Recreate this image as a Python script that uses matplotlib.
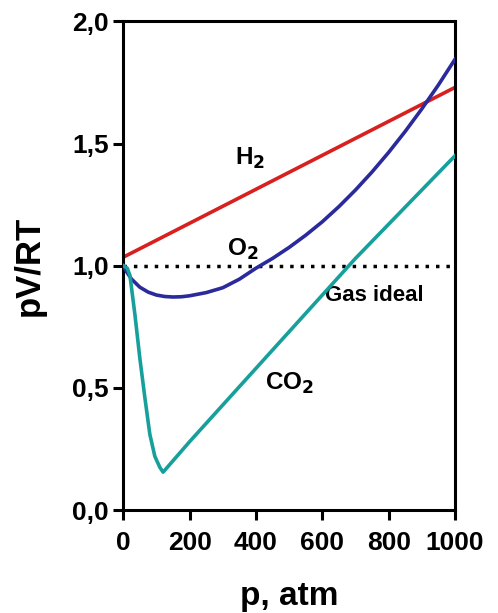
import numpy as np
import matplotlib.pyplot as plt

plt.rcParams['font.family'] = ['Liberation Sans', 'DejaVu Sans']
plt.rcParams['font.weight'] = 'bold'
plt.rcParams['mathtext.default'] = 'bf'

# datos
p_h2 = [0, 1000]
z_h2 = [1.035, 1.73]

p_o2 = [0, 10, 25, 50, 75, 100, 125, 150, 175, 200, 250, 300, 350, 400, 450, 500,
        550, 600, 650, 700, 750, 800, 850, 900, 950, 1000]
z_o2 = [1.0, 0.975, 0.945, 0.912, 0.892, 0.88, 0.874, 0.872, 0.873, 0.877, 0.89, 0.91,
        0.945, 0.99, 1.03, 1.075, 1.125, 1.18, 1.242, 1.31, 1.384, 1.464, 1.55, 1.642,
        1.74, 1.845]

p_co2 = [0, 12, 20, 35, 50, 65, 80, 95, 110, 120, 200, 300, 500, 700, 1000]
z_co2 = [1.0, 0.99, 0.96, 0.8, 0.62, 0.46, 0.31, 0.22, 0.175, 0.155, 0.28, 0.43, 0.73, 1.03, 1.45]

xticks = [0, 200, 400, 600, 800, 1000]
yticks = [0.0, 0.5, 1.0, 1.5, 2.0]
ytick_labels = ['0,0', '0,5', '1,0', '1,5', '2,0']

fig = plt.figure(figsize=(4.98, 6.13), dpi=100)
ax = fig.add_axes([0.2476, 0.168, 0.666, 0.797])

ax.plot([0, 1000], [1.0, 1.0], color='black', lw=2.5, ls=(0, (1, 2)), zorder=1)
ax.plot(p_h2, z_h2, color='#d8201e', lw=2.6, zorder=2)
ax.plot(p_o2, z_o2, color='#2a2a9c', lw=2.6, zorder=3)
ax.plot(p_co2, z_co2, color='#17a09b', lw=2.6, zorder=4)

ax.text(382, 1.44, 'H$_2$', fontsize=17.5, ha='center', va='center')
ax.text(361, 1.065, 'O$_2$', fontsize=17.5, ha='center', va='center')
ax.text(500, 0.52, 'CO$_2$', fontsize=17.5, ha='center', va='center')
ax.text(757, 0.88, 'Gas ideal', fontsize=16, ha='center', va='center')

ax.set_xlim(0, 1000)
ax.set_ylim(0, 2.0)
ax.set_xticks(xticks)
ax.set_yticks(yticks)
ax.set_yticklabels(ytick_labels)
ax.tick_params(direction='out', length=7, width=2.2, labelsize=19)
ax.tick_params(axis='x', pad=8)
ax.tick_params(axis='y', pad=3.5)
for s in ax.spines.values():
    s.set_linewidth(2.2)

ax.set_xlabel('p, atm', fontsize=24, fontweight='bold', labelpad=19)
ax.set_ylabel('pV/RT', fontsize=25, fontweight='bold', labelpad=19)

fig.savefig('out.png', dpi=100)
